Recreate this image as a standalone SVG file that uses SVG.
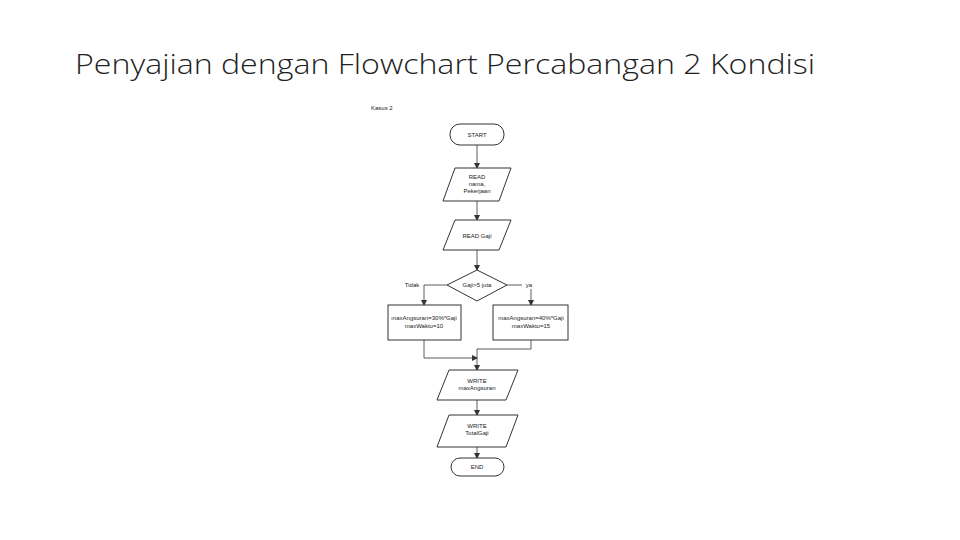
<svg xmlns="http://www.w3.org/2000/svg" width="960" height="540" viewBox="0 0 960 540">
<style>
.s{fill:#fff;stroke:#333;stroke-width:1}
.t{font-family:"Liberation Sans",Arial,sans-serif;font-size:6px;fill:#222;text-anchor:middle}
.c{fill:none;stroke:#333;stroke-width:0.8}
</style>
<defs><marker id="a" markerWidth="6" markerHeight="6" refX="5" refY="3" orient="auto" markerUnits="userSpaceOnUse"><path d="M0,0L6,3L0,6z" fill="#333"/></marker></defs>
<rect width="960" height="540" fill="#fff"/>
<text x="75" y="74" font-family="'Open Sans','Liberation Sans',sans-serif" font-size="28" font-weight="300" fill="#222" textLength="740" lengthAdjust="spacingAndGlyphs">Penyajian dengan Flowchart Percabangan 2 Kondisi</text>
<text x="371" y="110" class="t" style="text-anchor:start">Kasus 2</text>
<g id="connectors">
<path class="c" marker-end="url(#a)" d="M477,145V168"/>
<path class="c" marker-end="url(#a)" d="M477,201V220"/>
<path class="c" marker-end="url(#a)" d="M477,250V270"/>
<path class="c" d="M447,285H424"/>
<path class="c" marker-end="url(#a)" d="M424,285V305"/>
<path class="c" d="M507,285H522"/>
<path class="c" marker-end="url(#a)" d="M531,289V305"/>
<path class="c" marker-end="url(#a)" d="M424,340V358H477"/>
<path class="c" d="M531,340V349H477"/>
<path class="c" marker-end="url(#a)" d="M477,349V370"/>
<path class="c" marker-end="url(#a)" d="M477,400V415"/>
<path class="c" marker-end="url(#a)" d="M477,447V458"/>
</g>
<g id="start"><rect class="s" x="450" y="124" width="54" height="21" rx="10"/><text class="t" x="477" y="137">START</text></g>
<g id="read1"><path class="s" d="M455,168H511L499,201H443z"/><text class="t" x="477" y="179">READ</text><text class="t" x="477" y="186">nama,</text><text class="t" x="477" y="193">Pekerjaan</text></g>
<g id="read2"><path class="s" d="M455,220H511L499,250H443z"/><text class="t" x="477" y="238">READ Gaji</text></g>
<g id="decision"><path class="s" d="M477,270L507,285L477,301L447,285z"/><text class="t" x="477" y="287">Gaji&gt;5 juta</text></g>
<text class="t" x="412" y="287">Tidak</text>
<text class="t" x="529" y="287">ya</text>
<g id="left"><rect class="s" x="388" y="305" width="73" height="35"/><text class="t" x="424" y="320">maxAngsuran=30%*Gaji</text><text class="t" x="424" y="328">maxWaktu=10</text></g>
<g id="right"><rect class="s" x="493" y="305" width="75" height="35"/><text class="t" x="531" y="320">maxAngsuran=40%*Gaji</text><text class="t" x="531" y="328">maxWaktu=15</text></g>
<g id="write1"><path class="s" d="M449,370H518L506,400H437z"/><text class="t" x="477" y="383">WRITE</text><text class="t" x="477" y="390">maxAngsuran</text></g>
<g id="write2"><path class="s" d="M449,415H518L506,447H437z"/><text class="t" x="477" y="428">WRITE</text><text class="t" x="477" y="435">TotalGaji</text></g>
<g id="end"><rect class="s" x="451" y="458" width="53" height="18" rx="9"/><text class="t" x="477" y="469">END</text></g>
</svg>
